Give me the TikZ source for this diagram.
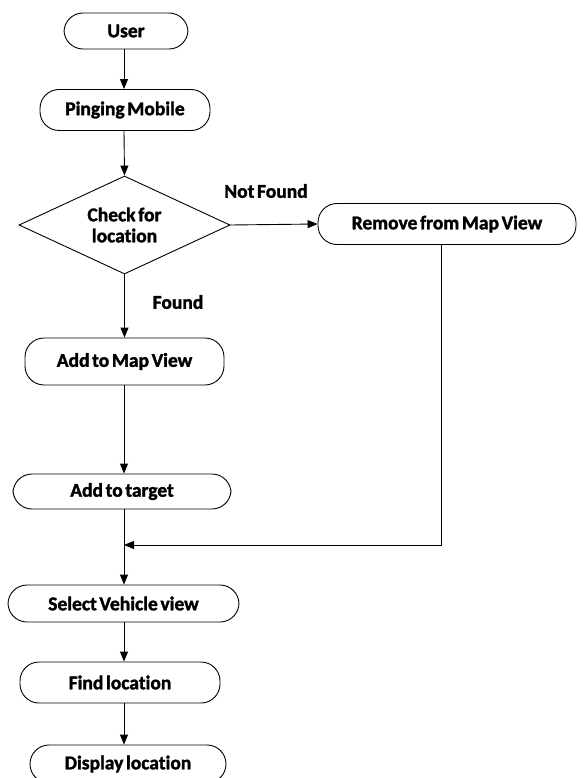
\documentclass[tikz,border=0pt]{standalone}
\usepackage{fontspec}
\setmainfont[Ligatures=NoCommon, WordSpace=0.6, BoldFeatures={FakeBold=1.6}]{Carlito}
\usetikzlibrary{shapes.geometric,arrows.meta}
\begin{document}
\begin{tikzpicture}[x=1pt,y=-1pt,
  font=\fontsize{19.5}{21}\selectfont\bfseries,
  every node/.style={inner sep=0pt},
  oval/.style={draw, line width=0.9pt, rectangle, rounded corners=19pt, align=center},
  decision/.style={draw, line width=0.9pt, diamond, aspect=2.15, align=center},
  flow/.style={line width=0.9pt, -{Triangle[length=10pt,width=8pt]}},
  lbl/.style={}]
  \useasboundingbox (0,0) rectangle (582,778);
  \fill[white] (0,0) rectangle (582,778);

  % process steps
  \node[oval, minimum width=124pt, minimum height=36pt] (user) at (126,31) {User};
  \node[oval, minimum width=170pt, minimum height=41pt] (ping) at (125,110) {Pinging Mobile};
  \node[decision, minimum width=211pt, minimum height=98pt] (check) at (124.5,225) {Check for\\location};
  \node[oval, minimum width=258pt, minimum height=41pt] (remove) at (447,224) {Remove from Map View};
  \node[oval, minimum width=199pt, minimum height=47pt] (addmap) at (124.5,361.5) {Add to Map View};
  \node[oval, minimum width=218pt, minimum height=35pt] (addtgt) at (122,491.5) {Add to target};
  \node[oval, minimum width=231pt, minimum height=37pt] (select) at (123.5,603.5) {Select Vehicle view};
  \node[oval, minimum width=200pt, minimum height=41pt] (find) at (120,682.5) {Find location};
  \node[oval, minimum width=196pt, minimum height=38pt] (display) at (128,764) {Display location};

  % branch labels
  \node[lbl] (nf) at (266,191) {Not Found};
  \node[lbl] (fd) at (178,302) {Found};

  % merge point of the two branches
  \coordinate (merge) at (124,545);

  % connectors
  \draw[flow] (user.south -| 124,0) -- (ping.north -| 124,0);
  \draw[flow] (ping.south -| 124,0) -- (check.north);
  \draw[flow] (check.east) -- (remove.west);
  \draw[flow] (check.south) -- (addmap.north -| check.south);
  \draw[flow] (addmap.south -| 124,0) -- (addtgt.north -| 124,0);
  \draw[line width=0.9pt] (addtgt.south -| 124,0) -- (merge);
  \draw[flow] (remove.south -| 441,0) |- (merge);
  \draw[flow] (merge) -- (select.north -| 124,0);
  \draw[flow] (select.south -| 124,0) -- (find.north -| 124,0);
  \draw[flow] (find.south -| 124,0) -- (display.north -| 124,0);
\end{tikzpicture}
\end{document}
